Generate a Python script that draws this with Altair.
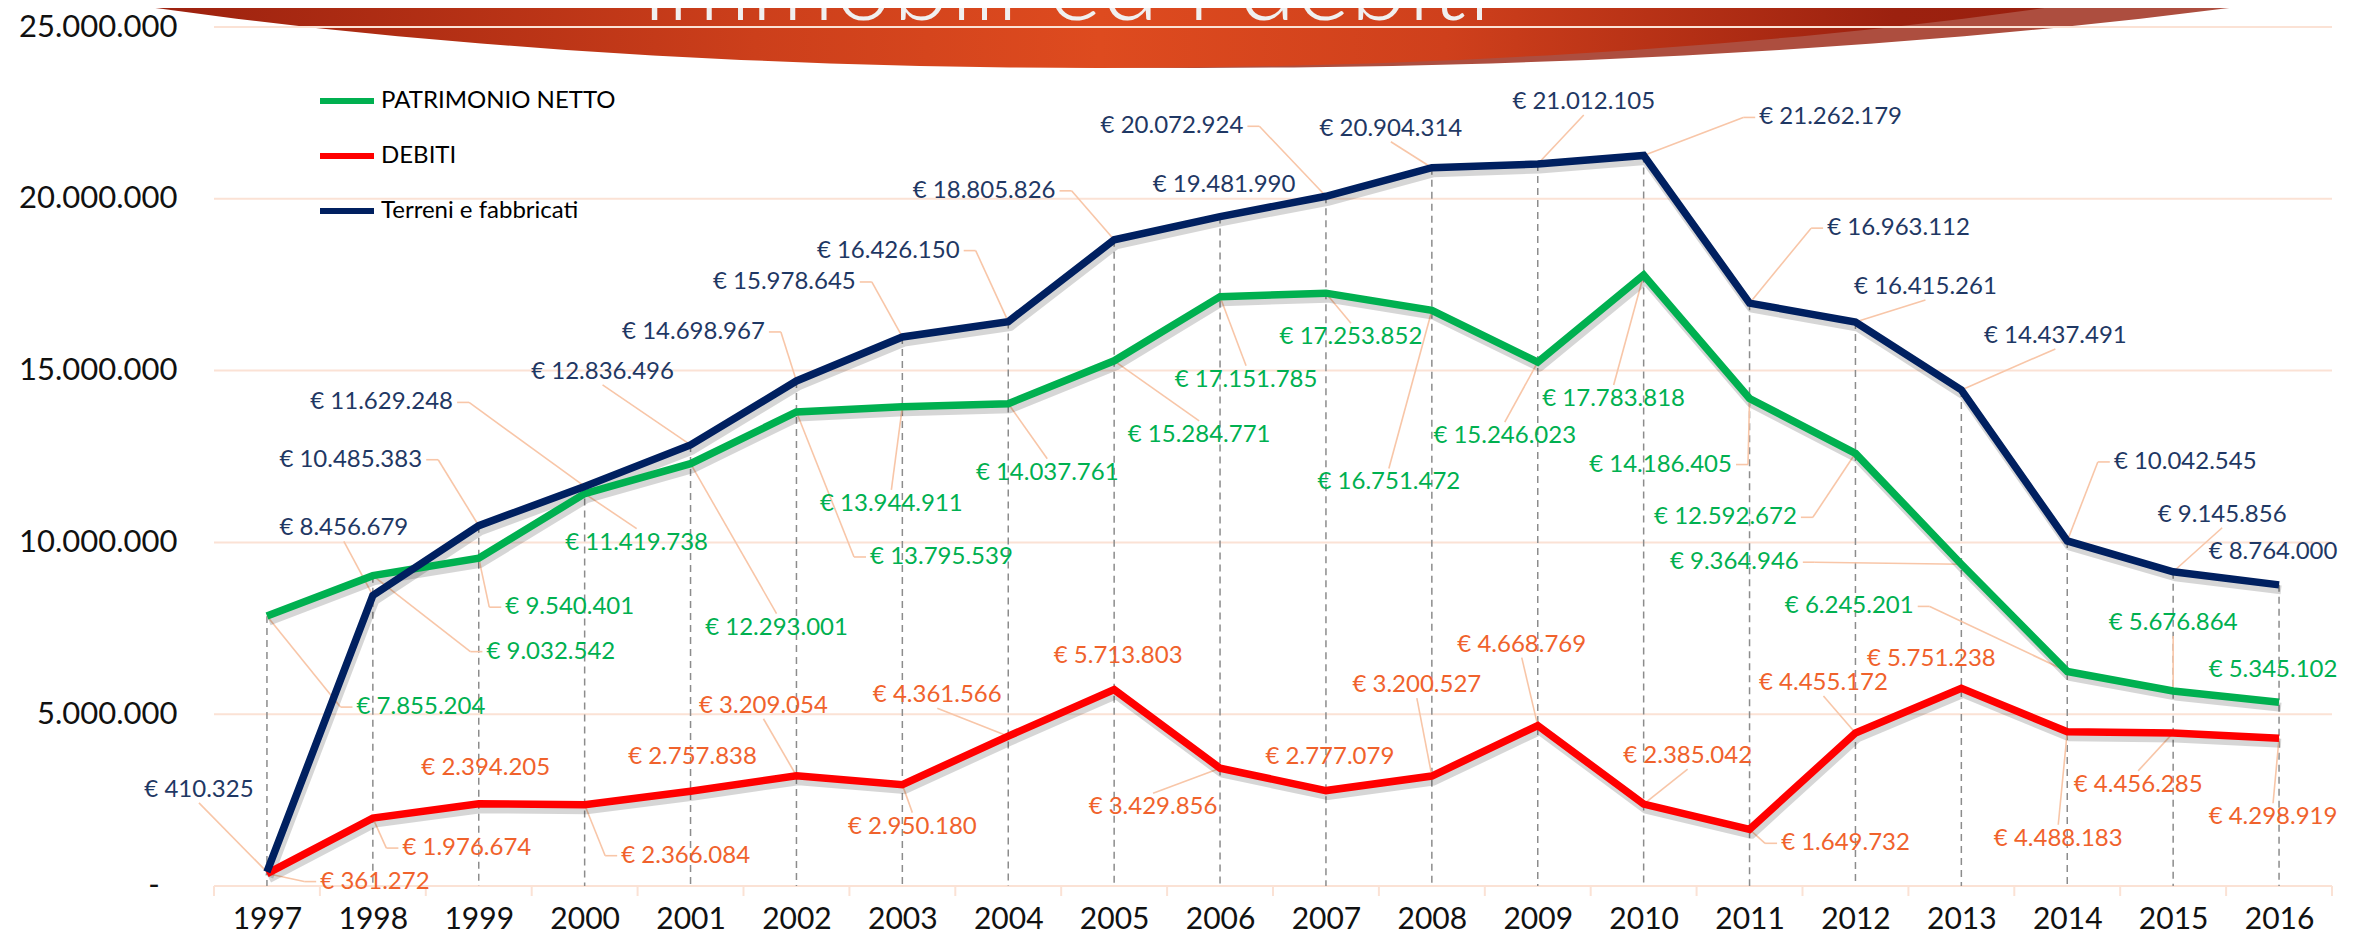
import math
import altair as alt
import pandas as pd

# ---------------- data ----------------
years = list(range(1997, 2017))
series_names = ["PATRIMONIO NETTO", "DEBITI", "Terreni e fabbricati"]
patrimonio = [7855204, 9032542, 9540401, 11419738, 12293001, 13795539, 13944911, 14037761,
              15284771, 17151785, 17253852, 16751472, 15246023, 17783818, 14186405, 12592672,
              9364946, 6245201, 5676864, 5345102]
debiti = [361272, 1976674, 2394205, 2366084, 2757838, 3209054, 2950180, 4361566, 5713803,
          3429856, 2777079, 3200527, 4668769, 2385042, 1649732, 4455172, 5751238, 4488183,
          4456285, 4298919]
terreni = [410325, 8456679, 10485383, 11629248, 12836496, 14698967, 15978645, 16426150,
           18805826, 19481990, 20072924, 20904314, 21012105, 21262179, 16963112, 16415261,
           14437491, 10042545, 9145856, 8764000]
y_ticks = [0, 5000000, 10000000, 15000000, 20000000, 25000000]
zero_label = "-"
title_text = "Immobili ed i debiti"

# label placement (pixel offsets of the label centre from its point) and leader anchor side
navy_dx = [-68, -29, -128, -203, -88, -103, -118, -120, -130, 4, -154, -41, 46, 187, 149, 70, 94, 118, 49, -6]
navy_dy = [-82, -67, -66, -84, -73, -49, -55, -71, -49, -32, -70, -39, -62, -38, -75, -35, -54, -79, -57, -33]
navy_anchor = ["B", "B", "R", "R", "B", "R", "R", "R", "R", "N", "R", "B", "B", "L", "L", "B", "B", "L", "B", "N"]
green_dx = [154, 178, 91, 52, 86, 145, -11, 39, 85, 26, 25, -43, -33, -30, -89, -130, -227, -218, 0, -6]
green_dy = [91, 76, 49, 49, 164, 145, 97, 69, 74, 83, 44, 172, 74, 124, 66, 64, -2, -65, -68, -32]
green_anchor = ["L", "L", "L", "T", "T", "L", "T", "T", "T", "T", "T", "T", "T", "T", "R", "R", "R", "R", "B", "N"]
red_dx = [108, 94, 7, 101, 2, -33, 10, -71, 4, -67, 4, -15, -16, 44, 96, -32, -30, -9, -35, -6]
red_dy = [8, 30, -36, 51, -34, -70, 42, -41, -34, 39, -34, -91, -81, -48, 14, -50, -29, 107, 52, 79]
red_anchor = ["L", "L", "N", "L", "N", "B", "T", "B", "N", "T", "N", "B", "B", "B", "L", "B", "N", "T", "T", "T"]

# ---------------- layout / style ----------------
W, H = 2118, 859
PAD = {"left": 206, "top": 19, "right": 14, "bottom": 49}
X0, X1 = 1996.5, 2016.5
YMAX = 25000000
PX_YEAR = W / (X1 - X0)
PX_VAL = H / YMAX
FONT = "Lato"
COL = {"PATRIMONIO NETTO": "#00B050", "DEBITI": "#FF0000", "Terreni e fabbricati": "#002060"}
LABEL_COL = {"PATRIMONIO NETTO": "#00B050", "DEBITI": "#F0622C", "Terreni e fabbricati": "#1F3864"}
LABEL_SIZE = 24
GRID_COL = "#FBE2D5"
LEADER_COL = "#F8C6A8"

x_scale = alt.Scale(domain=[X0, X1], nice=False, zero=False)
y_scale = alt.Scale(domain=[0, YMAX], nice=False, zero=True)

x_axis = alt.Axis(values=years, format="d", labelFont=FONT, labelFontSize=30,
                  labelColor="#111111", ticks=False, domain=False, grid=False,
                  labelPadding=18, title=None, labelOverlap=False, labelFlush=False)
y_axis = alt.Axis(
    values=y_ticks,
    labelExpr="datum.value == 0 ? '' : replace(replace(format(datum.value, ','), ',', '.'), ',', '.')",
    labelFont=FONT, labelFontSize=31, labelColor="#111111", ticks=False,
    domain=False, grid=False, labelPadding=37, title=None,
)


def X(field):
    return alt.X(field, scale=x_scale, axis=x_axis)


def Y(field):
    return alt.Y(field, scale=y_scale, axis=y_axis)


# ---------------- tables ----------------
vals = {"PATRIMONIO NETTO": patrimonio, "DEBITI": debiti, "Terreni e fabbricati": terreni}
lines_df = pd.DataFrame([
    {"year": y, "value": v, "series": s}
    for s in series_names for y, v in zip(years, vals[s])
])


def fmt_eur(v):
    return "€ " + f"{v:,}".replace(",", ".")


def text_w(s):
    return LABEL_SIZE * sum({"€": 0.58, " ": 0.19, ".": 0.23}.get(c, 0.58) for c in s)


place = {
    "PATRIMONIO NETTO": (green_dx, green_dy, green_anchor),
    "DEBITI": (red_dx, red_dy, red_anchor),
    "Terreni e fabbricati": (navy_dx, navy_dy, navy_anchor),
}
label_rows, leader_rows = [], []
for s in series_names:
    dxs, dys, anchors = place[s]
    for y, v, dx, dy, a in zip(years, vals[s], dxs, dys, anchors):
        t = fmt_eur(v)
        label_rows.append({"series": s, "text": t,
                           "lx": y + dx / PX_YEAR, "ly": v - dy / PX_VAL})
        w = text_w(t)
        segs = []
        if a == "L":
            end = (dx - w / 2 - 5, dy)
            elbow = (end[0] - 12, dy)
            segs = [((0, 0), elbow), (elbow, end)]
        elif a == "R":
            end = (dx + w / 2 + 5, dy)
            elbow = (end[0] + 12, dy)
            segs = [((0, 0), elbow), (elbow, end)]
        elif a == "T":
            segs = [((0, 0), (dx, dy - 14))]
        elif a == "B":
            segs = [((0, 0), (dx, dy + 13))]
        for (p1, p2) in segs:
            leader_rows.append({
                "x": y + p1[0] / PX_YEAR, "y": v - p1[1] / PX_VAL,
                "x2": y + p2[0] / PX_YEAR, "y2": v - p2[1] / PX_VAL,
            })
labels_df = pd.DataFrame(label_rows)
leaders_df = pd.DataFrame(leader_rows)
grid_df = pd.DataFrame({"v": y_ticks})
bounds_df = pd.DataFrame({"b": [X0 + i for i in range(21)]})
zero_df = pd.DataFrame({"v": [0], "t": [zero_label]})
one = pd.DataFrame({"k": [0]})


# ---------------- banner ----------------
def ellipse_path(ratio, n=120):
    pts = []
    for i in range(n):
        t = 2 * math.pi * i / n
        pts.append(f"{math.cos(t):.4f} {ratio * math.sin(t):.4f}")
    return "M " + " L ".join(pts) + " Z"


# page coords -> view coords: x - 214, y - 27
light_a, light_b = 1891, 368
dark_a, dark_b = 1727, 368
banner_light = alt.Chart(one).mark_point(
    shape=ellipse_path(light_b / light_a), size=(2 * light_a) ** 2, filled=True,
    fill="#AD4E3F", opacity=1, strokeWidth=0,
).encode(x=alt.value(1195 - 214), y=alt.value(-300 - 27))

grad = alt.LinearGradient(
    gradient="linear", x1=0, x2=1, y1=0, y2=0,
    stops=[
        alt.GradientStop(color="#8E1B0C", offset=0),
        alt.GradientStop(color="#9A200E", offset=0.22),
        alt.GradientStop(color="#CC3F1B", offset=0.40),
        alt.GradientStop(color="#DE4B1F", offset=0.50),
        alt.GradientStop(color="#CF401C", offset=0.60),
        alt.GradientStop(color="#9C210F", offset=0.73),
        alt.GradientStop(color="#8E1B0C", offset=1),
    ],
)
banner_dark = alt.Chart(one).mark_point(
    shape=ellipse_path(dark_b / dark_a), size=(2 * dark_a) ** 2, filled=True,
    fill=grad, opacity=1, strokeWidth=0,
).encode(x=alt.value(1100 - 214), y=alt.value(-300 - 27))

title = alt.Chart(one).mark_text(
    text=title_text, font=FONT, fontWeight=300, fontSize=104, color="#F0F0F0",
    align="center", baseline="alphabetic",
).encode(x=alt.value(1066 - 214), y=alt.value(20 - 27))

# ---------------- grid / axis furniture ----------------
grid = alt.Chart(grid_df).mark_rule(color=GRID_COL, strokeWidth=2).encode(
    y=Y("v:Q"), x=alt.value(0), x2=alt.value(W))

zero_tick_label = alt.Chart(zero_df).mark_text(
    font=FONT, fontSize=31, color="#111111", align="center", baseline="middle"
).encode(y=Y("v:Q"), x=alt.value(-60), text="t:N")

bound_ticks = alt.Chart(bounds_df).mark_rule(color=GRID_COL, strokeWidth=2).encode(
    x=X("b:Q"), y=alt.value(H), y2=alt.value(H + 10))

drops = alt.Chart(lines_df).transform_aggregate(
    vmax="max(value)", groupby=["year"]
).mark_rule(color="#8C8C8C", strokeDash=[7, 5], strokeWidth=1.5).encode(
    x=X("year:Q"), y=Y("vmax:Q"), y2=alt.datum(0),
)

leaders = alt.Chart(leaders_df).mark_rule(color=LEADER_COL, strokeWidth=1.6).encode(
    x=X("x:Q"), y=Y("y:Q"), x2="x2:Q", y2="y2:Q",
)

shadow = alt.Chart(lines_df).mark_line(
    color="#000000", opacity=0.16, strokeWidth=9, xOffset=2, yOffset=5, strokeJoin="round"
).encode(x=X("year:Q"), y=Y("value:Q"), detail="series:N")

color_scale = alt.Scale(domain=series_names, range=[COL[s] for s in series_names])
legend = alt.Legend(
    orient="none", legendX=103, legendY=44, direction="vertical", title=None,
    symbolType="stroke", symbolStrokeWidth=6, symbolSize=2916,
    labelFont=FONT, labelFontSize=24, labelColor="#000000", labelOffset=4,
    labelLimit=500, rowPadding=13, padding=0,
)

line_layers = []
for s in series_names:
    line_layers.append(
        alt.Chart(lines_df).transform_filter(alt.datum.series == s).mark_line(
            strokeWidth=7.5, strokeJoin="miter"
        ).encode(
            x=X("year:Q"), y=Y("value:Q"),
            color=alt.Color("series:N", scale=color_scale, legend=legend),
        )
    )

label_layers = []
for s in series_names:
    label_layers.append(
        alt.Chart(labels_df).transform_filter(alt.datum.series == s).mark_text(
            font=FONT, fontSize=LABEL_SIZE, color=LABEL_COL[s], align="center", baseline="middle"
        ).encode(x=X("lx:Q"), y=Y("ly:Q"), text="text:N")
    )

chart = alt.layer(
    banner_light, banner_dark, title, grid, zero_tick_label, bound_ticks, drops, leaders, shadow,
    *line_layers, *label_layers,
).properties(
    width=W, height=H, padding=PAD,
    autosize=alt.AutoSizeParams(type="none"),
    background="white",
).configure_view(strokeWidth=0)

chart.save("out.html", embed_options={"renderer": "svg", "actions": False})
